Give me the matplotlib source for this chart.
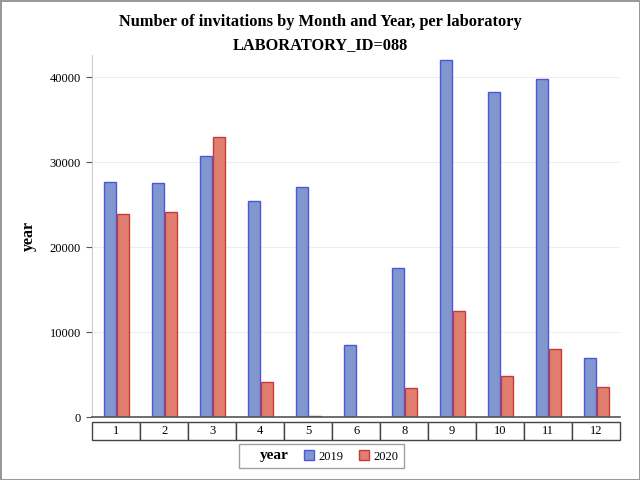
import matplotlib
matplotlib.use('Agg')
import matplotlib.pyplot as plt
import numpy as np
from matplotlib.patches import Patch

plt.rcParams['font.family'] = ['Liberation Serif', 'DejaVu Serif']

months = ['1', '2', '3', '4', '5', '6', '8', '9', '10', '11', '12']
inv_2019 = [27700, 27500, 30700, 25400, 27100, 8500, 17600, 42000, 38300, 39800, 7000]
inv_2020 = [23900, 24200, 33000, 4100, 100, 30, 3400, 12500, 4800, 8000, 3600]
yticks = [0, 10000, 20000, 30000, 40000]

blue_fill, blue_edge = '#7f97cc', '#4a55e6'
red_fill, red_edge = '#e07f6f', '#c83a3a'

fig = plt.figure(figsize=(6.4, 4.8), dpi=100)
fig.patch.set_edgecolor('#999999')
fig.patch.set_linewidth(2)
ax = fig.add_axes([0.144, 0.131, 0.825, 0.754])

x = np.arange(len(months))
width = 0.25
ax.bar(x - width / 2 - 0.01, inv_2019, width, color=blue_fill, edgecolor=blue_edge, linewidth=1, label='2019')
ax.bar(x + width / 2 + 0.01, inv_2020, width, color=red_fill, edgecolor=red_edge, linewidth=1, label='2020')

ax.set_xlim(-0.5, len(months) - 0.5)
ax.set_ylim(0, 42600)
ax.set_yticks(yticks)
ax.set_yticklabels([str(v) for v in yticks], fontsize=9)
ax.set_xticks([])
ax.grid(axis='y', color='#eeeeee', linewidth=0.8)
ax.set_axisbelow(True)
for s in ['top', 'right']:
    ax.spines[s].set_visible(False)
ax.spines['left'].set_color('#cccccc')
ax.spines['bottom'].set_color('#555555')
ax.spines['bottom'].set_linewidth(1.2)
ax.tick_params(axis='y', length=4, color='#555555', pad=4)
ax.set_ylabel('year', fontsize=11.5, fontweight='bold', labelpad=9)

# month boxes under the axis
tbl = ax.table(cellText=[months], cellLoc='center', bbox=[0, -0.064, 1, 0.05])
tbl.auto_set_font_size(False)
tbl.set_fontsize(9)
for cell in tbl.get_celld().values():
    cell.set_edgecolor('#444444')
    cell.set_linewidth(1)

fig.suptitle('Number of invitations by Month and Year, per laboratory\nLABORATORY_ID=088',
             fontsize=11.8, fontweight='bold', y=0.97, linespacing=1.55)

handles = [Patch(visible=False), Patch(facecolor=blue_fill, edgecolor=blue_edge),
           Patch(facecolor=red_fill, edgecolor=red_edge)]
leg = fig.legend(handles, ['year', '2019', '2020'], ncol=3, loc='center',
                 bbox_to_anchor=(0.503, 0.05), fancybox=False, fontsize=9,
                 handlelength=0.8, handleheight=0.8, handletextpad=0.4, columnspacing=1.2,
                 borderpad=0.45, edgecolor='#888888')
leg.get_frame().set_linewidth(1)
leg.get_texts()[0].set_fontweight('bold')
leg.get_texts()[0].set_fontsize(11)

fig.savefig('out.png', dpi=100)
